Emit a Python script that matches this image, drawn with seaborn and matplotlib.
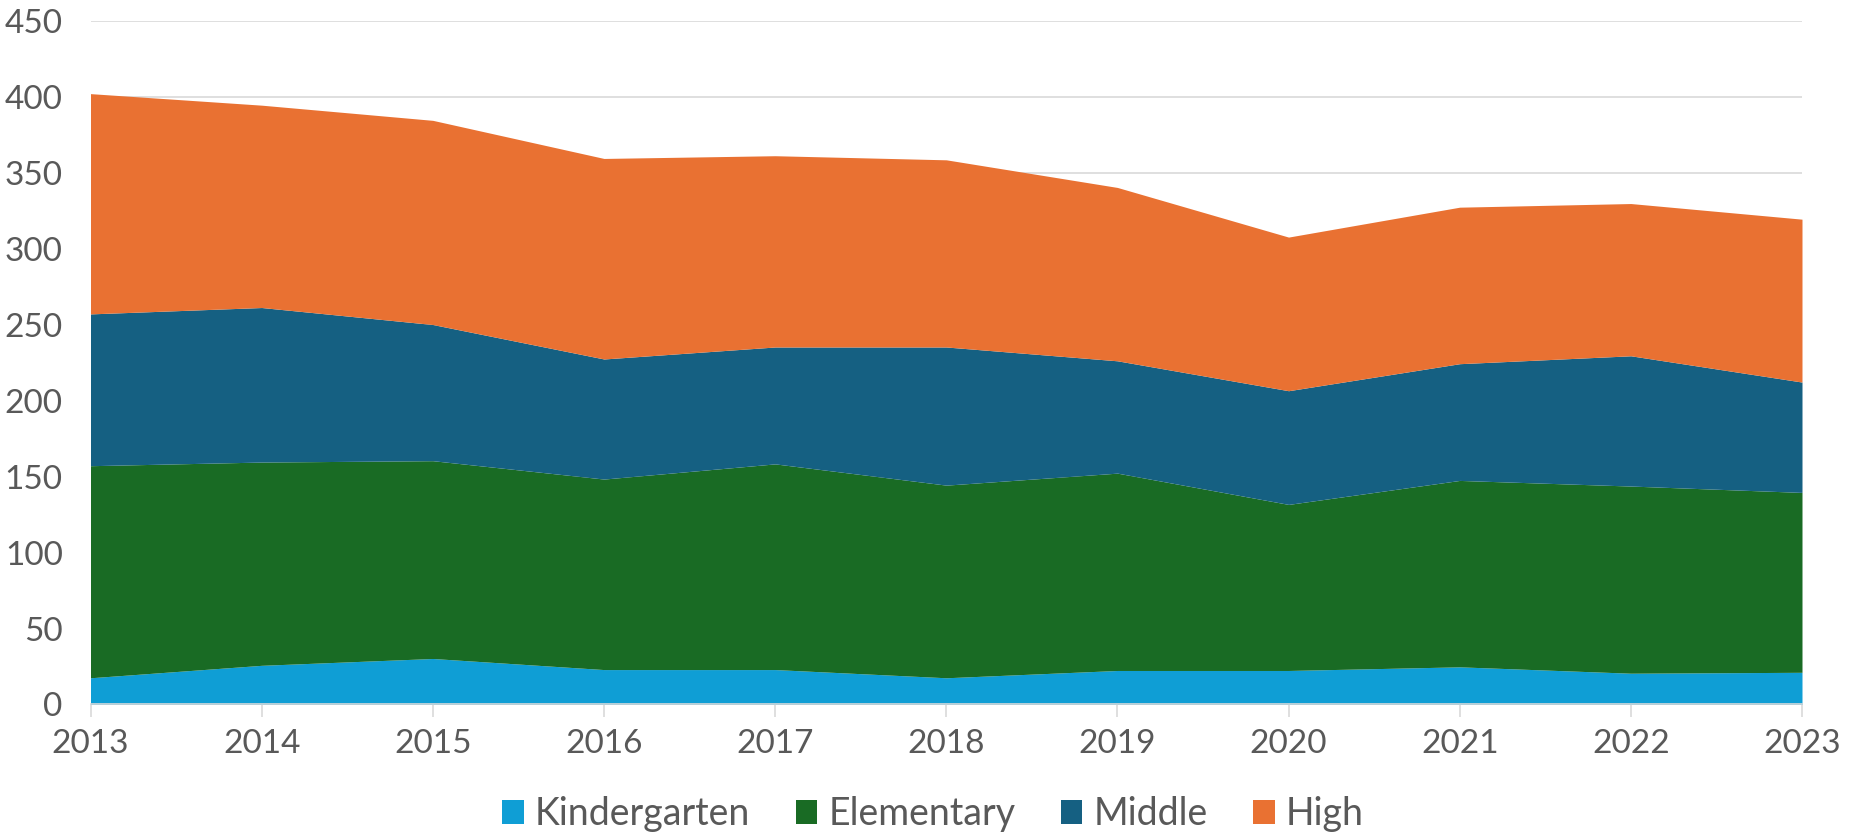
import numpy as np
import matplotlib
matplotlib.use("Agg")
import matplotlib.pyplot as plt
import seaborn as sns

# data
years = [2013, 2014, 2015, 2016, 2017, 2018, 2019, 2020, 2021, 2022, 2023]
kindergarten = [17.6, 25.8, 30.3, 23.0, 23.0, 17.6, 22.4, 22.4, 24.8, 20.6, 21.2]
elementary = [139.7, 133.9, 130.3, 125.5, 135.5, 126.9, 130.0, 109.4, 122.8, 123.3, 118.5]
middle = [100.0, 101.8, 89.7, 79.1, 77.0, 91.0, 74.0, 74.9, 76.9, 85.8, 72.7]
high = [145.1, 133.3, 134.5, 132.1, 126.0, 123.3, 114.2, 101.2, 103.1, 100.3, 107.3]

series_names = ["Kindergarten", "Elementary", "Middle", "High"]
colors = ["#0f9ed5", "#196b24", "#156082", "#e97132"]

sns.set_theme(style="white")
plt.rcParams['font.family'] = ['Lato', 'DejaVu Sans']

fig = plt.figure(figsize=(18.66, 8.35), dpi=100)
ax = fig.add_axes([0.0485, 0.1563, 0.9172, 0.8181])

ax.stackplot(years, kindergarten, elementary, middle, high,
             labels=series_names, colors=colors, linewidth=0, zorder=2)

ax.set_xlim(2013, 2023)
ax.set_ylim(0, 450)
ax.set_yticks(np.arange(0, 451, 50))
ax.set_xticks(years)

# grid lines
ax.yaxis.grid(True, color="#d9d9d9", linewidth=1.2, zorder=0)
ax.xaxis.grid(False)
ax.set_axisbelow(True)

sns.despine(ax=ax, left=True, top=True, right=True)
ax.spines['bottom'].set_color("#d9d9d9")
ax.spines['bottom'].set_linewidth(1.2)
ax.spines['bottom'].set_zorder(3)

ax.tick_params(axis='x', which='both', bottom=True, length=9, width=1.2,
               color="#d9d9d9", labelsize=24, labelcolor="#595959", pad=9)
ax.tick_params(axis='y', left=False, labelsize=24, labelcolor="#595959", pad=14)

handles, labels = ax.get_legend_handles_labels()
fig.legend(handles, labels, loc="center", bbox_to_anchor=(0.5, 0.025), ncol=4,
           frameon=False, fontsize=27, handlelength=0.58, handleheight=0.58,
           handletextpad=0.3, columnspacing=1.2, labelcolor="#595959")

fig.savefig("out.png", dpi=100)
